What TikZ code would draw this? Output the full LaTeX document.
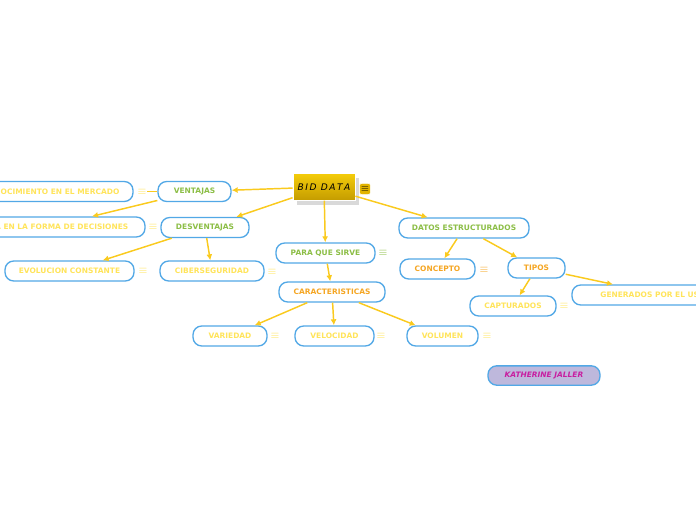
\documentclass[tikz,border=0pt]{standalone}
\usepackage{fontspec}
\setsansfont{DejaVu Sans}
\usepackage{xcolor}
\usetikzlibrary{arrows.meta}
\definecolor{mapblue}{RGB}{82,168,230}
\definecolor{linkgold}{RGB}{250,202,30}
\definecolor{tgreen}{RGB}{140,190,70}
\definecolor{torange}{RGB}{245,166,35}
\definecolor{tyellow}{RGB}{255,228,90}
\definecolor{lilac}{RGB}{190,184,220}
\definecolor{magen}{RGB}{200,30,160}

\begin{document}
\begin{tikzpicture}[x=0.75pt, y=-0.75pt,
  topic/.style={draw=mapblue, line width=1pt, fill=white, rounded corners=6.5pt,
    minimum height=15pt, inner sep=0pt, font=\sffamily\bfseries\fontsize{5.6}{6}\selectfont},
  wd/.style={minimum width=#1*0.75pt},
  note/.style={inner sep=0pt, font=\fontsize{8}{8}\selectfont},
  link/.style={linkgold, line width=1.1pt},
  arrow/.style={link, -{Latex[length=4.5pt,width=4.5pt]}}
]
\useasboundingbox (0,0) rectangle (696,520);
\clip (0,0) rectangle (696,520);

% central topic
\fill[black!15] (297,178) rectangle (359,205);
\node[minimum width=46.5pt, minimum height=20pt, inner sep=0pt, draw=white, line width=0.6pt,
  top color={rgb,255:red,244;green,204;blue,10}, bottom color={rgb,255:red,196;green,156;blue,0},
  font=\sffamily\itshape\fontsize{6.8}{7}\selectfont] (bid) at (324,187) {B\,I\,D\,\ D\,A\,T\,A};
\node[fill={rgb,255:red,226;green,180;blue,0}, draw=white, rounded corners=1.5pt, minimum width=8pt,
  minimum height=8.5pt, inner sep=0pt, font=\fontsize{7}{7}\selectfont] (icbid) at (365,189) {$\equiv$};

% left branch
\node[topic, wd=73, text=tgreen] (vent) at (194.5,191.5) {VENTAJAS};
\node[topic, wd=164, text=tyellow] (conoc) at (51,191.5) {CONOCIMIENTO EN EL MERCADO};
\node[note, text=tyellow] (icconoc) at (142,191.5) {$\equiv$};
\node[topic, wd=194, text=tyellow] (mejora) at (48,227) {MEJORA EN LA FORMA DE DECISIONES};
\node[note, text=tyellow] (icmejora) at (153,227) {$\equiv$};
\node[topic, wd=88, text=tgreen] (desv) at (205,227.5) {DESVENTAJAS};
\node[topic, wd=129, text=tyellow] (evol) at (69.5,271) {EVOLUCION CONSTANTE};
\node[note, text=tyellow] (icevol) at (143,271) {$\equiv$};
\node[topic, wd=104, text=tyellow] (ciber) at (212,271) {CIBERSEGURIDAD};
\node[note, text=tyellow] (icciber) at (272,272) {$\equiv$};

% middle branch
\node[topic, wd=99, text=tgreen] (para) at (325.5,253) {PARA QUE SIRVE};
\node[note, text=tgreen] (icpara) at (383,253) {$\equiv$};
\node[topic, wd=106, text=torange] (carac) at (332,292) {CARACTERISTICAS};
\node[topic, wd=74, text=tyellow] (vari) at (230,336) {VARIEDAD};
\node[note, text=tyellow] (icvari) at (275,336) {$\equiv$};
\node[topic, wd=79, text=tyellow] (velo) at (334.5,336) {VELOCIDAD};
\node[note, text=tyellow] (icvelo) at (381,336) {$\equiv$};
\node[topic, wd=71, text=tyellow] (volu) at (442.5,336) {VOLUMEN};
\node[note, text=tyellow] (icvolu) at (487,336) {$\equiv$};

% right branch
\node[topic, wd=130, text=tgreen] (datos) at (464,228) {DATOS ESTRUCTURADOS};
\node[topic, wd=75, text=torange] (conc) at (437.5,269) {CONCEPTO};
\node[note, text=torange] (icconc) at (484,270) {$\equiv$};
\node[topic, wd=57, text=torange] (tipos) at (536.5,268) {TIPOS};
\node[topic, wd=86, text=tyellow] (capt) at (513,306) {CAPTURADOS};
\node[note, text=tyellow] (iccapt) at (564,306) {$\equiv$};
\node[topic, wd=182, text=tyellow] (gener) at (663,295) {GENERADOS POR EL USUARIO};

\node[topic, wd=112, minimum height=14.5pt, fill=lilac, text=magen,
  font=\sffamily\bfseries\itshape\fontsize{5.6}{6}\selectfont] (kath) at (544,375.5) {KATHERINE JALLER};

% connectors
\draw[arrow] (bid) -- (vent);
\draw[arrow] (bid) -- (desv);
\draw[arrow] (bid) -- (para);
\draw[arrow] (bid) -- (datos);
\draw[link] (vent) -- (icconoc);
\draw[arrow] (vent) -- (mejora);
\draw[arrow] (desv) -- (evol);
\draw[arrow] (desv) -- (ciber);
\draw[arrow] (para) -- (carac);
\draw[arrow] (carac) -- (vari);
\draw[arrow] (carac) -- (velo);
\draw[arrow] (carac) -- (volu);
\draw[arrow] (datos) -- (conc);
\draw[arrow] (datos) -- (tipos);
\draw[arrow] (tipos) -- (capt);
\draw[arrow] (tipos) -- (gener);
\end{tikzpicture}
\end{document}
